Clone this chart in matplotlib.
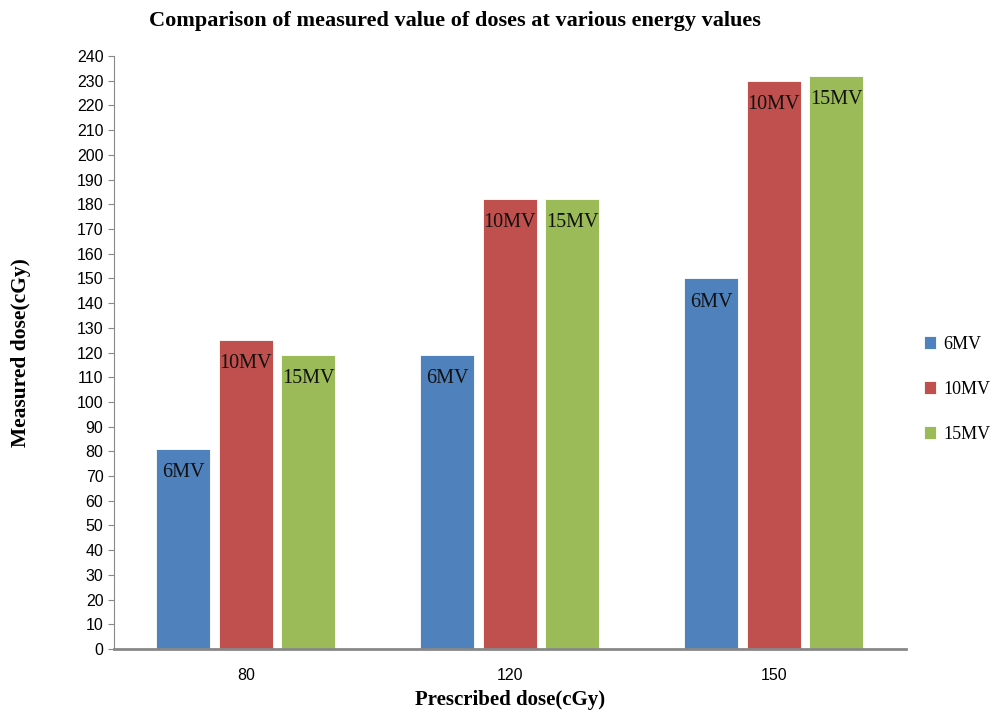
import matplotlib
matplotlib.use("Agg")
import matplotlib.pyplot as plt
import numpy as np

categories = ["80", "120", "150"]
series_names = ["6MV", "10MV", "15MV"]
values_6mv = [81, 119, 150]
values_10mv = [125, 182, 230]
values_15mv = [119, 182, 232]
colors = ["#4F81BD", "#C0504D", "#9BBB59"]
yticks = list(range(0, 241, 10))

fig = plt.figure(figsize=(9.9, 7.1), dpi=100)
ax = fig.add_axes([0.115, 0.086, 0.80, 0.835])

x = np.arange(len(categories))
width = 0.205
offset = 0.237
serif = ["Liberation Serif", "DejaVu Serif"]
for i, (name, vals) in enumerate(zip(series_names, [values_6mv, values_10mv, values_15mv])):
    pos = x + (i - 1) * offset
    bars = ax.bar(pos, vals, width=width, color=colors[i], label=name,
                  edgecolor="white", linewidth=0.6)
    for b, v in zip(bars, vals):
        ax.annotate(name, (b.get_x() + b.get_width() / 2, v), xytext=(0, -17),
                    textcoords="offset points", ha="center", va="center",
                    fontsize=14.5, family=serif, color="#111111")

ax.set_xlim(-0.5, 2.5)
ax.set_ylim(0, 240)
ax.set_yticks(yticks)
ax.set_xticks(x)
ax.set_xticklabels(categories)
ax.tick_params(axis="y", labelsize=11.5, length=4, color="#888888", direction="out")
ax.tick_params(axis="x", labelsize=11.5, length=0, pad=14)
for lbl in ax.get_xticklabels() + ax.get_yticklabels():
    lbl.set_family(["Liberation Sans Narrow", "Liberation Sans", "DejaVu Sans"])

for s in ["top", "right"]:
    ax.spines[s].set_visible(False)
ax.spines["left"].set_color("#888888")
ax.spines["bottom"].set_color("#888888")
ax.spines["bottom"].set_linewidth(2)

ax.set_ylabel("Measured dose(cGy)", fontsize=15.5, fontweight="bold", family=serif)
ax.yaxis.set_label_coords(-0.104, 0.5)
ax.set_xlabel("Prescribed dose(cGy)", fontsize=15, fontweight="bold", family=serif)
ax.xaxis.set_label_coords(0.5, -0.07)
fig.text(0.46, 0.97, "Comparison of measured value of doses at various energy values",
         ha="center", va="center", fontsize=16, fontweight="bold", family=serif)

leg = ax.legend(loc="center left", bbox_to_anchor=(1.002, 0.438), frameon=False,
                prop={"family": serif, "size": 13}, handlelength=0.7, handleheight=0.7,
                labelspacing=1.55, handletextpad=0.4)

fig.savefig("out.png", dpi=100)
